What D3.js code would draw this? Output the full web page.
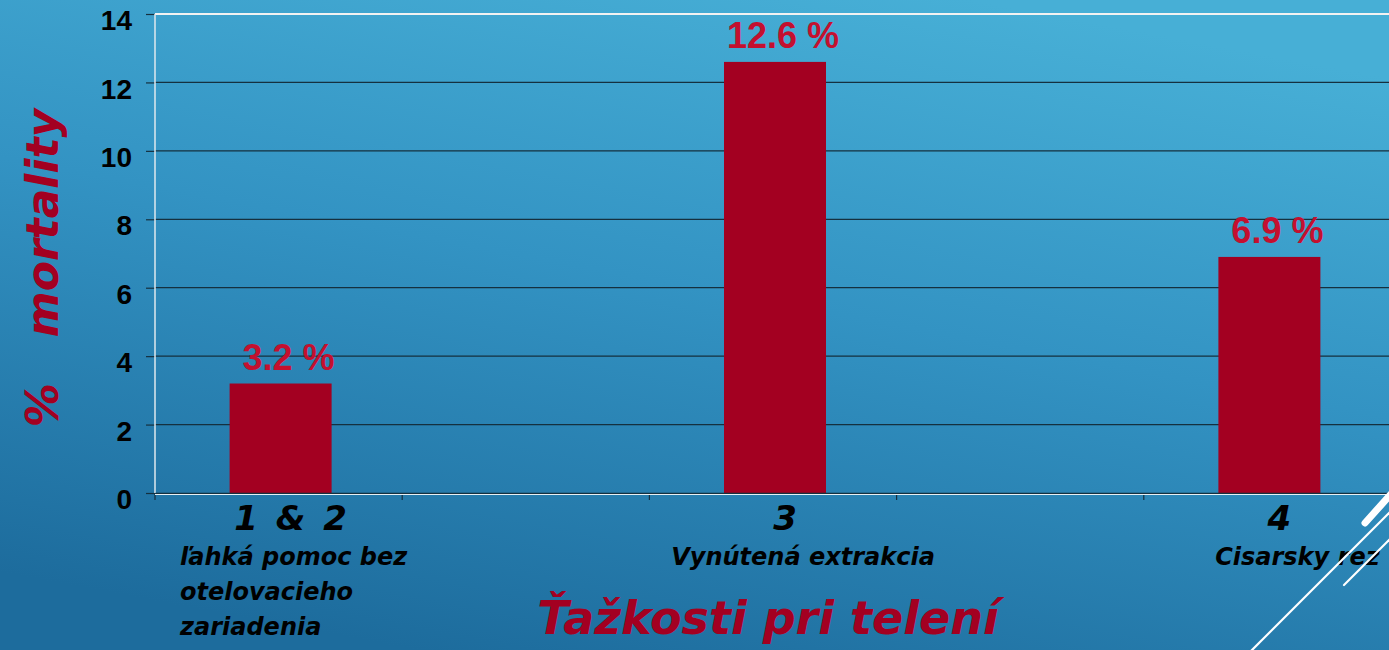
<!DOCTYPE html>
<html>
<head>
<meta charset="utf-8">
<script src="https://cdn.jsdelivr.net/npm/d3@7"></script>
<style>
    html, body { margin: 0; padding: 0; overflow: hidden; }
    #chart { width: 1389px; height: 650px; }
    .comic { font-family: 'DejaVu Sans', sans-serif; font-weight: bold; font-style: italic; }
    .axis text { font-family: 'Liberation Sans', Arial, sans-serif; font-weight: bold; font-size: 28px; fill: #000; }
</style>
</head>
<body>
<div id="chart"></div>
<script>

// data
let slots = ["s0", "s1", "s2", "s3", "s4"];        // 5 category slots on the x axis
let categories = ["1 & 2", "3", "4"];
let categorySlots = ["s0", "s2", "s4"];
let descriptions = [
    ["ľahká pomoc bez", "otelovacieho", "zariadenia"],
    ["Vynútená extrakcia"],
    ["Cisarsky rez"]
];
let values = [3.2, 12.6, 6.9];
let valueLabels = ["3.2 %", "12.6 %", "6.9 %"];
let yTicks = [0, 2, 4, 6, 8, 10, 12, 14];

class MortalityVis {

    constructor(_parentElement) {
        this.parentElement = _parentElement;
        this.data = categories.map((c, i) => ({
            cat: c, slot: categorySlots[i], desc: descriptions[i], value: values[i], label: valueLabels[i]
        }));
        this.initVis();
    }

    initVis() {
        let vis = this;

        vis.margin = {top: 14, right: -2, bottom: 157, left: 155};
        vis.width = 1389 - vis.margin.left - vis.margin.right;
        vis.height = 650 - vis.margin.top - vis.margin.bottom;

        vis.colors = {
            bar: '#A30021',
            label: '#C4102F',
            grid: '#15303f'
        }

        vis.root = d3.select("#" + vis.parentElement).append("svg")
            .attr("width", 1389)
            .attr("height", 650);

        // slide background
        let grad = vis.root.append("defs").append("linearGradient")
            .attr("id", "bg")
            .attr("x1", "0.3").attr("y1", "1")
            .attr("x2", "0.7").attr("y2", "0");
        grad.append("stop").attr("offset", "0").attr("stop-color", "#1D6C9D");
        grad.append("stop").attr("offset", "0.55").attr("stop-color", "#3393C3");
        grad.append("stop").attr("offset", "1").attr("stop-color", "#47AFD6");

        vis.root.append("rect")
            .attr("width", 1389)
            .attr("height", 650)
            .attr("fill", "url(#bg)");

        vis.svg = vis.root.append("g")
            .attr("transform", "translate(" + vis.margin.left + "," + vis.margin.top + ")");

        // scales
        vis.x = d3.scaleBand()
            .domain(slots)
            .range([0, vis.width]);

        vis.y = d3.scaleLinear()
            .domain([0, 14])
            .range([vis.height, 0]);

        vis.barWidth = 102;

        vis.updateVis();
    }

    updateVis() {
        let vis = this;

        // gridlines
        vis.svg.append("g")
            .selectAll("line")
            .data(yTicks.filter(t => t > 0))
            .enter()
            .append("line")
            .attr("x1", 0)
            .attr("x2", vis.width)
            .attr("y1", d => vis.y(d))
            .attr("y2", d => vis.y(d))
            .attr("stroke", d => d === 14 ? "#f2f2f2" : vis.colors.grid)
            .attr("stroke-width", d => d === 14 ? 2 : 1.2);

        // y axis
        let yAxis = d3.axisLeft(vis.y)
            .tickValues(yTicks)
            .tickSize(9)
            .tickPadding(14);
        let yG = vis.svg.append("g")
            .attr("class", "axis y-axis")
            .call(yAxis);
        yG.select(".domain").remove();
        yG.selectAll(".tick line").attr("stroke", vis.colors.grid).attr("stroke-width", 1.2);
        yG.selectAll(".tick text").attr("dy", "0.56em");

        vis.svg.append("line")
            .attr("x1", 0).attr("x2", 0)
            .attr("y1", 0).attr("y2", vis.height)
            .attr("stroke", "#dfe8ee").attr("stroke-width", 1.5);

        // bars
        vis.svg.append("g")
            .selectAll("rect")
            .data(vis.data)
            .enter()
            .append("rect")
            .attr("x", d => vis.x(d.slot) + vis.x.bandwidth() / 2 - vis.barWidth / 2 + 2)
            .attr("y", d => vis.y(d.value))
            .attr("width", vis.barWidth)
            .attr("height", d => vis.y(0) - vis.y(d.value))
            .attr("fill", vis.colors.bar);

        // x axis
        let xAxis = d3.axisBottom(vis.x)
            .tickValues([])
            .tickSize(0);
        let xG = vis.svg.append("g")
            .attr("class", "axis x-axis")
            .attr("transform", "translate(0," + vis.height + ")")
            .call(xAxis);
        xG.select(".domain").attr("stroke", vis.colors.grid).attr("stroke-width", 1.5);
        xG.selectAll(".slot-tick")
            .data(slots)
            .enter()
            .append("line")
            .attr("x1", d => vis.x(d))
            .attr("x2", d => vis.x(d))
            .attr("y1", 0)
            .attr("y2", 7)
            .attr("stroke", vis.colors.grid)
            .attr("stroke-width", 1.2);
        xG.append("line")
            .attr("x1", 0).attr("x2", vis.width)
            .attr("y1", 1.5).attr("y2", 1.5)
            .attr("stroke", "#e8f0f4").attr("stroke-width", 1.2);

        // value labels
        vis.svg.append("g")
            .selectAll("text")
            .data(vis.data)
            .enter()
            .append("text")
            .attr("x", d => vis.x(d.slot) + vis.x.bandwidth() / 2 + 10)
            .attr("y", d => vis.y(d.value) - 14)
            .attr("text-anchor", "middle")
            .attr("font-family", "'Liberation Sans', Arial, sans-serif")
            .attr("font-weight", "bold")
            .attr("font-size", 36)
            .attr("fill", vis.colors.label)
            .text(d => d.label);

        // category numbers
        vis.svg.append("g")
            .selectAll("text")
            .data(vis.data)
            .enter()
            .append("text")
            .attr("class", "comic")
            .attr("x", d => vis.x(d.slot) + vis.x.bandwidth() / 2 + 12)
            .attr("y", vis.height + 37)
            .attr("text-anchor", "middle")
            .attr("font-size", 34)
            .attr("word-spacing", 6)
            .attr("fill", "#000")
            .text(d => d.cat);

        // category descriptions
        let desc = vis.svg.append("g")
            .selectAll("text")
            .data(vis.data)
            .enter()
            .append("text")
            .attr("class", "comic")
            .attr("font-size", 24)
            .attr("fill", "#000")
            .attr("text-anchor", d => d.desc.length > 1 ? "start" : "middle")
            .attr("transform", d => {
                let cx = vis.x(d.slot) + vis.x.bandwidth() / 2;
                let tx = d.desc.length > 1 ? vis.x(d.slot) + 25 : cx + 30;
                return "translate(" + tx + "," + (vis.height + 72) + ")";
            });
        desc.selectAll("tspan")
            .data(d => d.desc)
            .enter()
            .append("tspan")
            .attr("x", 0)
            .attr("dy", (d, i) => i === 0 ? 0 : 35)
            .text(d => d);

        // axis titles
        vis.root.append("text")
            .attr("class", "comic")
            .attr("x", 768)
            .attr("y", 634)
            .attr("text-anchor", "middle")
            .attr("font-size", 46)
            .attr("fill", vis.colors.bar)
            .text("Ťažkosti pri telení");

        vis.root.append("text")
            .attr("class", "comic")
            .attr("transform", "translate(58,268) rotate(-90)")
            .attr("text-anchor", "middle")
            .attr("font-size", 44)
            .attr("fill", vis.colors.bar)
            .style("white-space", "pre")
            .text("%   mortality");

        // slide corner decoration
        let deco = vis.root.append("g")
            .attr("stroke", "#ffffff")
            .attr("stroke-linecap", "round");
        deco.append("line")
            .attr("x1", 1365).attr("y1", 523).attr("x2", 1400).attr("y2", 484)
            .attr("stroke-width", 7);
        deco.append("line")
            .attr("x1", 1250).attr("y1", 652).attr("x2", 1400).attr("y2", 502)
            .attr("stroke-width", 2.2);
        deco.append("line")
            .attr("x1", 1344).attr("y1", 585).attr("x2", 1400).attr("y2", 529)
            .attr("stroke-width", 2.2);
    }
}

new MortalityVis("chart");

</script>
</body>
</html>
